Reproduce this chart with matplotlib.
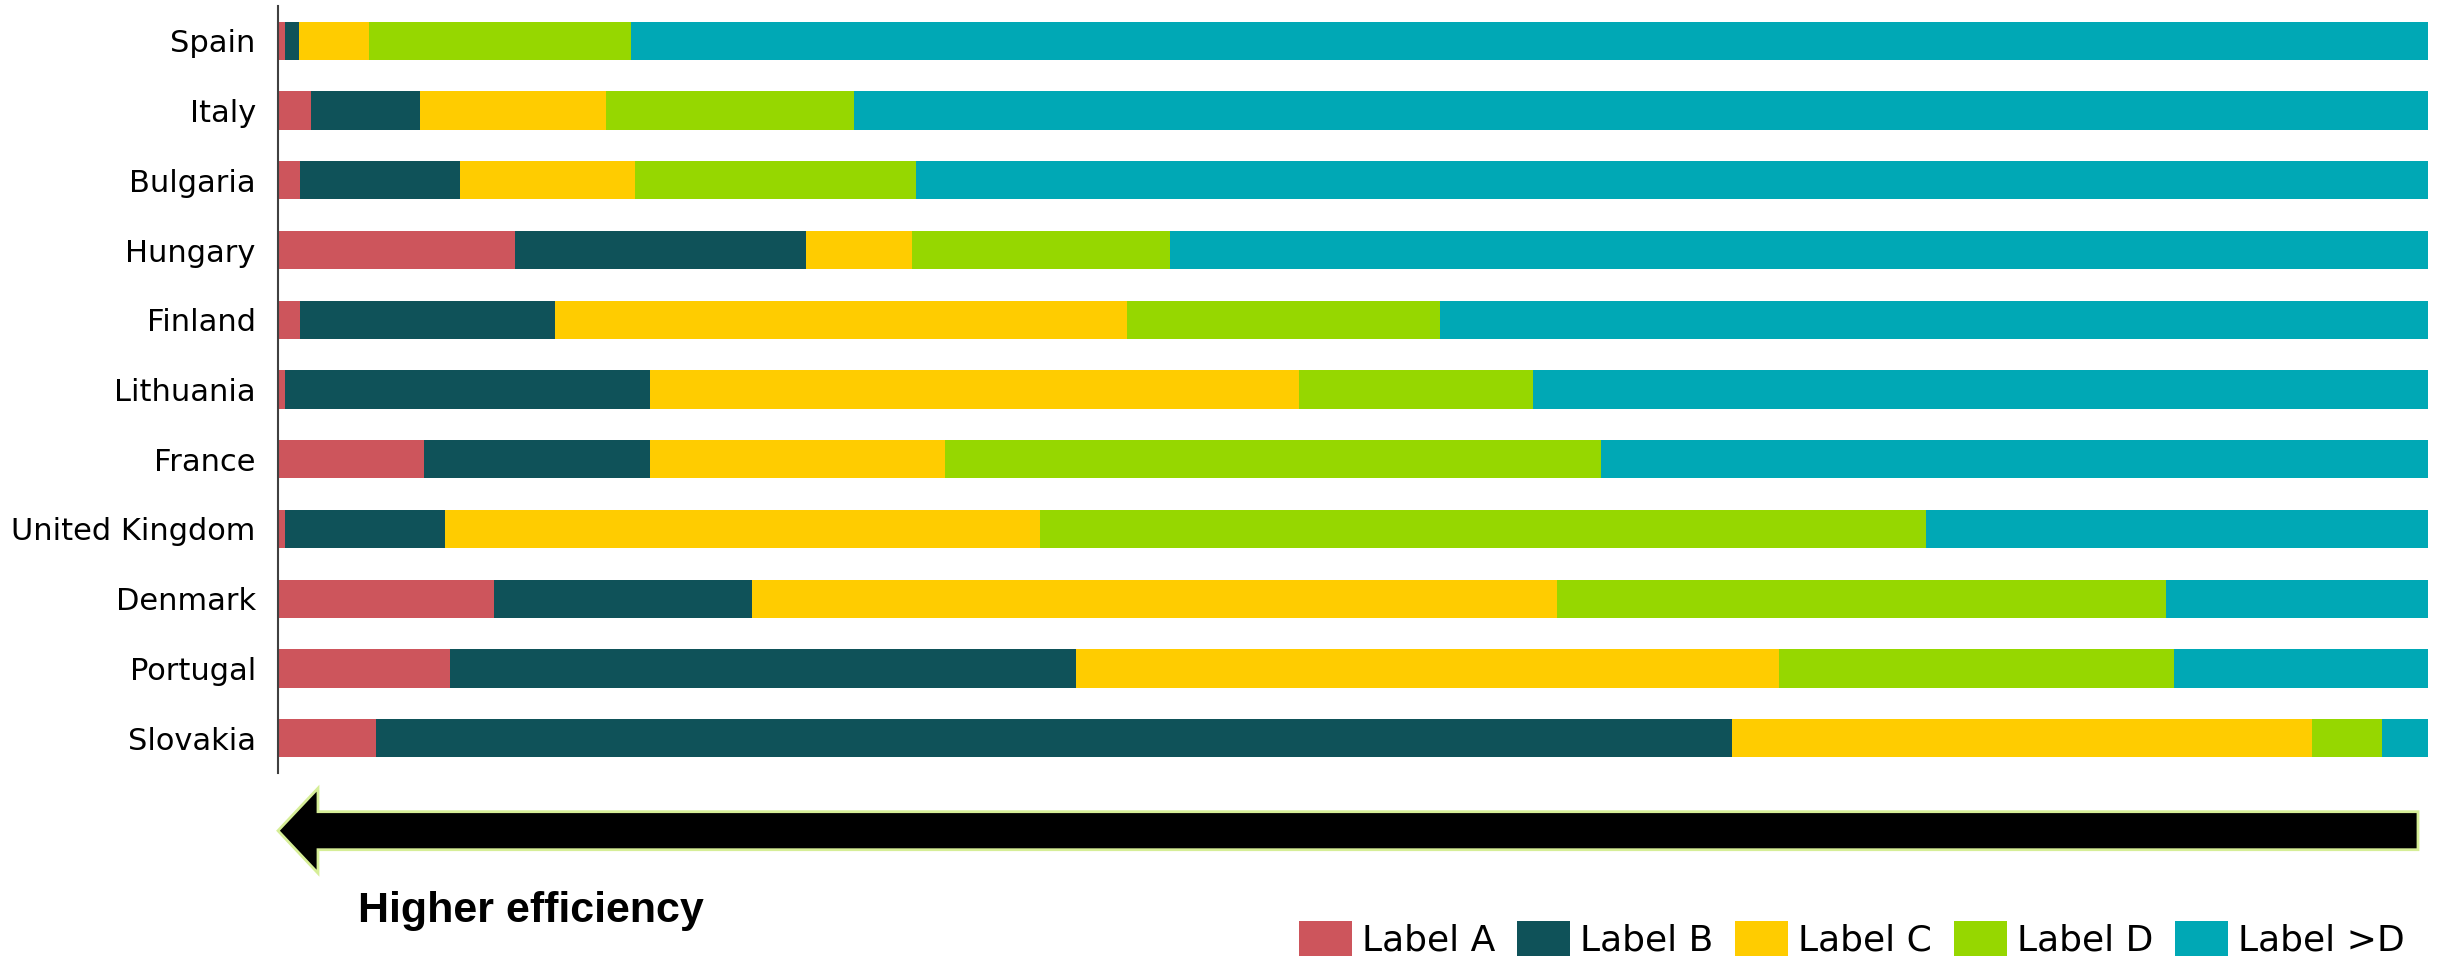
import matplotlib.pyplot as plt
import numpy as np
from matplotlib.patches import FancyArrow

countries = ['Spain', 'Italy', 'Bulgaria', 'Hungary', 'Finland', 'Lithuania',
             'France', 'United Kingdom', 'Denmark', 'Portugal', 'Slovakia']
labels = ['Label A', 'Label B', 'Label C', 'Label D', 'Label >D']
colors = ['#CD555C', '#0F5259', '#FFCC00', '#96D700', '#00A8B5']

# shares in percent, one list per label, same order as countries
label_a = [0.33, 1.52, 1.01, 11.0, 1.01, 0.33, 6.8, 0.33, 10.03, 7.99, 4.57]
label_b = [0.65, 5.10, 7.45, 13.56, 11.87, 16.95, 10.48, 7.45, 12.01, 29.13, 63.08]
label_c = [3.26, 8.64, 8.16, 4.95, 26.6, 30.2, 13.73, 27.67, 37.45, 32.71, 26.96]
label_d = [12.2, 11.54, 13.05, 12.0, 14.58, 10.9, 30.51, 41.2, 28.34, 18.35, 3.26]
label_e = [83.56, 73.2, 70.33, 58.49, 45.94, 41.62, 38.48, 23.35, 12.17, 11.82, 2.13]

series = [label_a, label_b, label_c, label_d, label_e]

fig = plt.figure(figsize=(24.45, 9.61), dpi=100)
ax = fig.add_axes([278 / 2445, 188 / 961, 2150 / 2445, 767 / 961])

y = np.arange(len(countries))
left = np.zeros(len(countries))
for vals, name, col in zip(series, labels, colors):
    vals = np.array(vals)
    ax.barh(y, vals, left=left, height=0.55, color=col, label=name)
    left += vals

ax.set_xlim(0, 100)
ax.set_ylim(10.5, -0.5)
ax.set_yticks(y)
ax.set_yticklabels(countries, fontsize=22)
ax.tick_params(axis='y', length=0, pad=16)
ax.set_xticks([])
for side in ['top', 'right', 'bottom']:
    ax.spines[side].set_visible(False)
ax.spines['left'].set_color('#404040')
ax.spines['left'].set_linewidth(1.5)

# big arrow under the bars
arrow = FancyArrow(24.18, 1.303, -21.40, 0, width=0.38, head_width=0.85,
                   head_length=0.40, length_includes_head=True,
                   facecolor='black', edgecolor='#D6EE97', linewidth=2,
                   transform=fig.dpi_scale_trans)
fig.patches.append(arrow)

fig.text(358 / 2445, 39 / 961, 'Higher efficiency', fontsize=31,
         fontweight='bold', family='Liberation Sans', va='baseline')

handles, names = ax.get_legend_handles_labels()
fig.legend(handles, names, loc='lower left', bbox_to_anchor=(1295 / 2445, 0.0),
           ncol=5, frameon=False, fontsize=26, handlelength=1.47,
           handleheight=1.11, handletextpad=0.28, columnspacing=0.6,
           borderpad=0.1, borderaxespad=0)

fig.savefig('out.png', dpi=100)
